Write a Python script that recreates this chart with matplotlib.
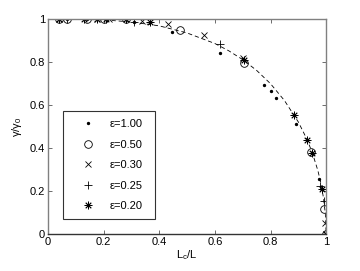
import matplotlib
matplotlib.use("Agg")
import matplotlib.pyplot as plt

plt.rcParams['font.family'] = ['Liberation Sans', 'DejaVu Sans']

# Data
x_e100 = [0.04, 0.07, 0.14, 0.31, 0.445, 0.62, 0.777, 0.80, 0.82, 0.89, 0.975, 1.0]
y_e100 = [1.0, 1.0, 1.0, 0.985, 0.938, 0.84, 0.693, 0.665, 0.633, 0.51, 0.256, 0.0]

x_e050 = [0.04, 0.07, 0.14, 0.20, 0.28, 0.475, 0.705, 0.946, 0.993, 1.0]
y_e050 = [1.0, 1.0, 1.0, 1.0, 1.0, 0.949, 0.795, 0.38, 0.116, 0.0]

x_e030 = [0.04, 0.175, 0.22, 0.337, 0.43, 0.56, 0.70, 0.997, 1.0]
y_e030 = [1.0, 1.0, 1.0, 0.99, 0.977, 0.925, 0.82, 0.05, 0.0]

x_e025 = [0.07, 0.28, 0.31, 0.62, 0.978, 0.993, 1.0]
y_e025 = [1.0, 1.0, 0.985, 0.885, 0.223, 0.155, 0.0]

x_e020 = [0.04, 0.13, 0.175, 0.21, 0.28, 0.367, 0.705, 0.885, 0.93, 0.95, 0.985, 1.0]
y_e020 = [1.0, 1.0, 1.0, 1.0, 1.0, 0.985, 0.81, 0.555, 0.437, 0.376, 0.21, 0.0]

# dashed reference curve
x_curve = [0.0, 0.2, 0.3, 0.4, 0.5, 0.6, 0.65, 0.7, 0.75, 0.8, 0.85, 0.9, 0.93, 0.95, 0.97, 0.98, 0.99, 0.997, 1.0]
y_curve = [1.0, 0.996, 0.986, 0.968, 0.935, 0.886, 0.852, 0.811, 0.761, 0.699, 0.621, 0.521, 0.443, 0.379, 0.296, 0.243, 0.171, 0.095, 0.0]

labels = ['ε=1.00', 'ε=0.50', 'ε=0.30', 'ε=0.25', 'ε=0.20']

fig = plt.figure(figsize=(3.6, 2.71), dpi=100)
ax = fig.add_axes([0.133, 0.1365, 0.773, 0.7935])

ax.plot(x_curve, y_curve, color='k', lw=0.6, dashes=(5, 3.5))

ax.plot(x_e100, y_e100, ls='none', marker='.', color='k', ms=2.8, label=labels[0])
ax.plot(x_e050, y_e050, ls='none', marker='o', mfc='none', mec='k', ms=5.5, mew=0.6, label=labels[1])
ax.plot(x_e030, y_e030, ls='none', marker='x', color='k', ms=4.5, mew=0.6, label=labels[2])
ax.plot(x_e025, y_e025, ls='none', marker='+', color='k', ms=6, mew=0.6, label=labels[3])
ax.plot(x_e020, y_e020, ls='none', marker=(8, 2, 0), color='k', ms=5.5, mew=0.6, label=labels[4])

ax.set_xlim(0, 1)
ax.set_ylim(0, 1)
ax.set_xticks([0, 0.2, 0.4, 0.6, 0.8, 1])
ax.set_xticklabels(['0', '0.2', '0.4', '0.6', '0.8', '1'])
ax.set_yticks([0, 0.2, 0.4, 0.6, 0.8, 1])
ax.set_yticklabels(['0', '0.2', '0.4', '0.6', '0.8', '1'])
ax.tick_params(direction='in', length=3, width=0.6, labelsize=8, top=True, right=True,
               color='#555555', pad=2)
for name, sp in ax.spines.items():
    sp.set_linewidth(1.0)
    sp.set_color('#808080')
ax.spines['bottom'].set_color('#333333')

ax.set_xlabel('L$_\\mathregular{c}$/L', fontsize=8, labelpad=1)
ax.set_ylabel('γ/γ$_\\mathregular{0}$', fontsize=8, labelpad=4)

leg = ax.legend(loc='lower left', bbox_to_anchor=(0.054, 0.07, 0.33, 0.48), mode='expand',
                fontsize=8, frameon=True, fancybox=False, handlelength=3.2,
                handletextpad=0.3, borderpad=0.7, labelspacing=0.95, borderaxespad=0)
leg.get_frame().set_edgecolor('k')
leg.get_frame().set_linewidth(0.8)

fig.savefig('out.png', dpi=100)
